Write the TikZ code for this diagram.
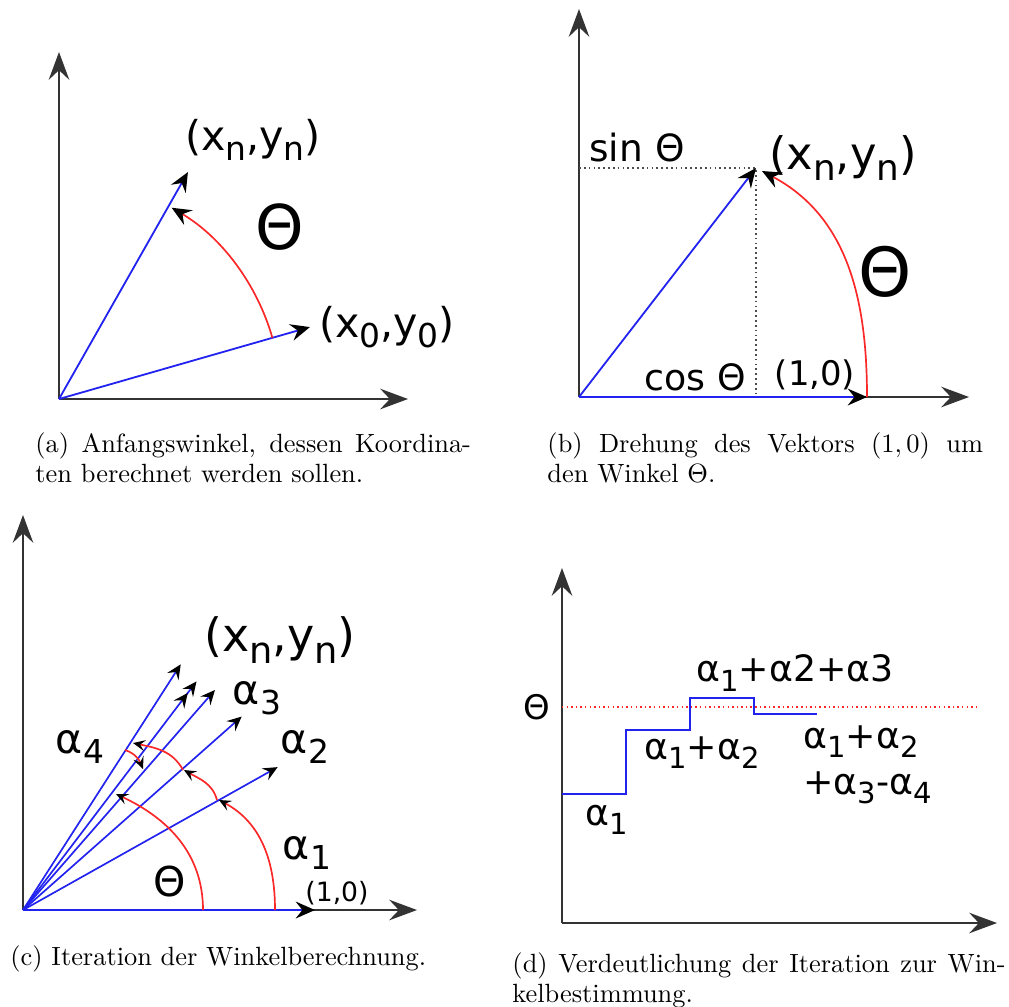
\documentclass[tikz,border=0pt]{standalone}
\usepackage{fontspec}
\usepackage{tikz}
\usetikzlibrary{arrows.meta, calc}
\newfontfamily\lblfont{DejaVu Sans}
\definecolor{vecblue}{RGB}{35, 35, 240}
\definecolor{rotred}{RGB}{250, 40, 40}
\newcommand{\dn}[1]{\raisebox{-0.25em}{\scalebox{0.8}{#1}}}

\begin{document}
\begin{tikzpicture}[x=0.4133pt, y=0.4133pt,
    axis/.style={black!80, line width=0.85pt, -{Stealth[length=11.5pt, width=8.5pt, inset=4pt]}},
    vec/.style={vecblue, line width=0.75pt, -{Stealth[length=8pt, width=7pt, inset=2.8pt, color=black]}},
    vecs/.style={vecblue, line width=0.7pt, -{Stealth[length=6pt, width=5.5pt, inset=2.2pt, color=black]}},
    rot/.style={rotred, line width=0.7pt, -{Stealth[length=8pt, width=7pt, inset=2.8pt, color=black]}},
    rots/.style={rotred, line width=0.7pt, -{Stealth[length=5pt, width=4.5pt, inset=2pt, color=black]}},
    lbl/.style={inner sep=0pt, font=\lblfont\fontsize{#1pt}{#1pt}\selectfont},
    lbl/.default=17,
    capt/.style={inner sep=0pt, anchor=north west, align=justify, font=\fontsize{10.9pt}{12.3pt}\selectfont}]
    \useasboundingbox (0,0) rectangle (1009,-1006);

    % (a) Anfangswinkel
    \coordinate (Oa) at (59,-399);
    \draw[axis] (Oa) -- (59,-52);
    \draw[axis] (Oa) -- (408,-399);
    \draw[vec] (Oa) -- ++(16:261) coordinate (P0a);
    \draw[vec] (Oa) -- ++(60.4:261) coordinate (Pna);
    \draw[rot] (Oa) ++(16:222) arc[start angle=16, end angle=59.5, radius=222];
    \node[lbl] (xna) at (253,-140) {(x\dn{n},y\dn{n})};
    \node[lbl] (x0a) at (387,-327) {(x\dn{0},y\dn{0})};
    \node[lbl=25.5] (tha) at (280,-227) {Θ};
    \node[capt, text width=180pt] (capa) at (35,-432)
        {(a) Anfangswinkel, dessen Koordina-\linebreak ten berechnet werden sollen.};

    % (b) Drehung
    \coordinate (Ob) at (579,-397);
    \draw[axis] (Ob) -- (579,-9);
    \draw[axis] (Ob) -- (969,-397);
    \draw[black!70, line width=0.7pt, dash pattern=on 0.7pt off 1.3pt] (579,-168) -- (756,-168) -- (756,-397);
    \draw[vec] (Ob) -- (867,-397);
    \draw[vec] (Ob) -- (756,-168);
    \draw[rot] (867,-397) to[out=90, in=-28] (762,-171);
    \node[lbl=15.5] (sinb) at (637,-148) {sin Θ};
    \node[lbl=15] (cosb) at (695,-377) {cos Θ};
    \node[lbl=14] (einsb) at (815,-375) {(1,0)};
    \node[lbl=18.5] (xnb) at (843,-158) {(x\dn{n},y\dn{n})};
    \node[lbl=28] (thb) at (885,-272) {Θ};
    \node[capt, text width=180pt] (capb) at (547,-432)
        {(b) Drehung des Vektors $(1,0)$ um\linebreak den Winkel $\Theta$.};

    % (c) Iteration
    \coordinate (Oc) at (23,-910);
    \draw[axis] (Oc) -- (23,-515);
    \draw[axis] (Oc) -- (417,-910);
    \draw[vec] (Oc) -- (315,-910);
    \foreach \ang in {29.3, 41.5, 48.9, 57.3}
        \draw[vecs] (Oc) -- ++(\ang:292);
    \draw[vecblue, line width=0.7pt, -{Stealth[length=6pt, width=5.5pt, inset=2.2pt, color=black] Stealth[length=6pt, width=5.5pt, inset=2.2pt, color=black]}] (Oc) -- ++(52.8:287);
    \draw[rots] (275,-910) to[out=90, in=-28] (219,-800);
    \draw[rots] (217,-800) to[out=105, in=-30] (184,-770);
    \draw[rots] (183,-770) to[out=118, in=-12] (133,-743);
    \draw[rots] (125,-750) to[out=-18, in=112] (143,-769);
    \draw[rots] (203,-910) to[out=90, in=-25] (116,-794);
    \node[lbl=19] (xnc) at (280,-640) {(x\dn{n},y\dn{n})};
    \node[lbl] (a3c) at (257,-698) {α\dn{3}};
    \node[lbl] (a4c) at (80,-747) {α\dn{4}};
    \node[lbl] (a2c) at (305,-747) {α\dn{2}};
    \node[lbl] (a1c) at (307,-853) {α\dn{1}};
    \node[lbl] (thc) at (170,-882) {Θ};
    \node[lbl=11] (einsc) at (337,-893) {(1,0)};
    \node[inner sep=0pt, anchor=base west, font=\fontsize{10.9pt}{12.3pt}\selectfont] (capc) at (10,-965)
        {(c) Iteration der Winkelberechnung.};

    % (d) Verdeutlichung
    \coordinate (Od) at (562,-923);
    \draw[axis] (Od) -- (562,-568);
    \draw[axis] (Od) -- (997,-923);
    \draw[rotred, line width=0.6pt, dash pattern=on 0.6pt off 1.3pt] (562,-707) -- (977,-707);
    \draw[vecblue, line width=0.75pt] (562,-794) -- (626,-794) -- (626,-730) -- (690,-730)
        -- (690,-698) -- (754,-698) -- (754,-714) -- (817,-714);
    \node[lbl=14] (thd) at (537,-707) {Θ};
    \node[lbl=15] (s1d) at (607,-820) {α\dn{1}};
    \node[lbl=15] (s2d) at (702,-753) {α\dn{1}+α\dn{2}};
    \node[lbl=15] (s3d) at (795,-673) {α\dn{1}+α2+α3};
    \node[lbl=15, font=\lblfont\fontsize{15pt}{19pt}\selectfont, align=left, anchor=west] (s4d) at (803,-765)
        {α\dn{1}+α\dn{2}\\+α\dn{3}-α\dn{4}};
    \node[capt, text width=203.8pt] (capd) at (512,-952)
        {(d) Verdeutlichung der Iteration zur Win-\linebreak kelbestimmung.};
\end{tikzpicture}
\end{document}
